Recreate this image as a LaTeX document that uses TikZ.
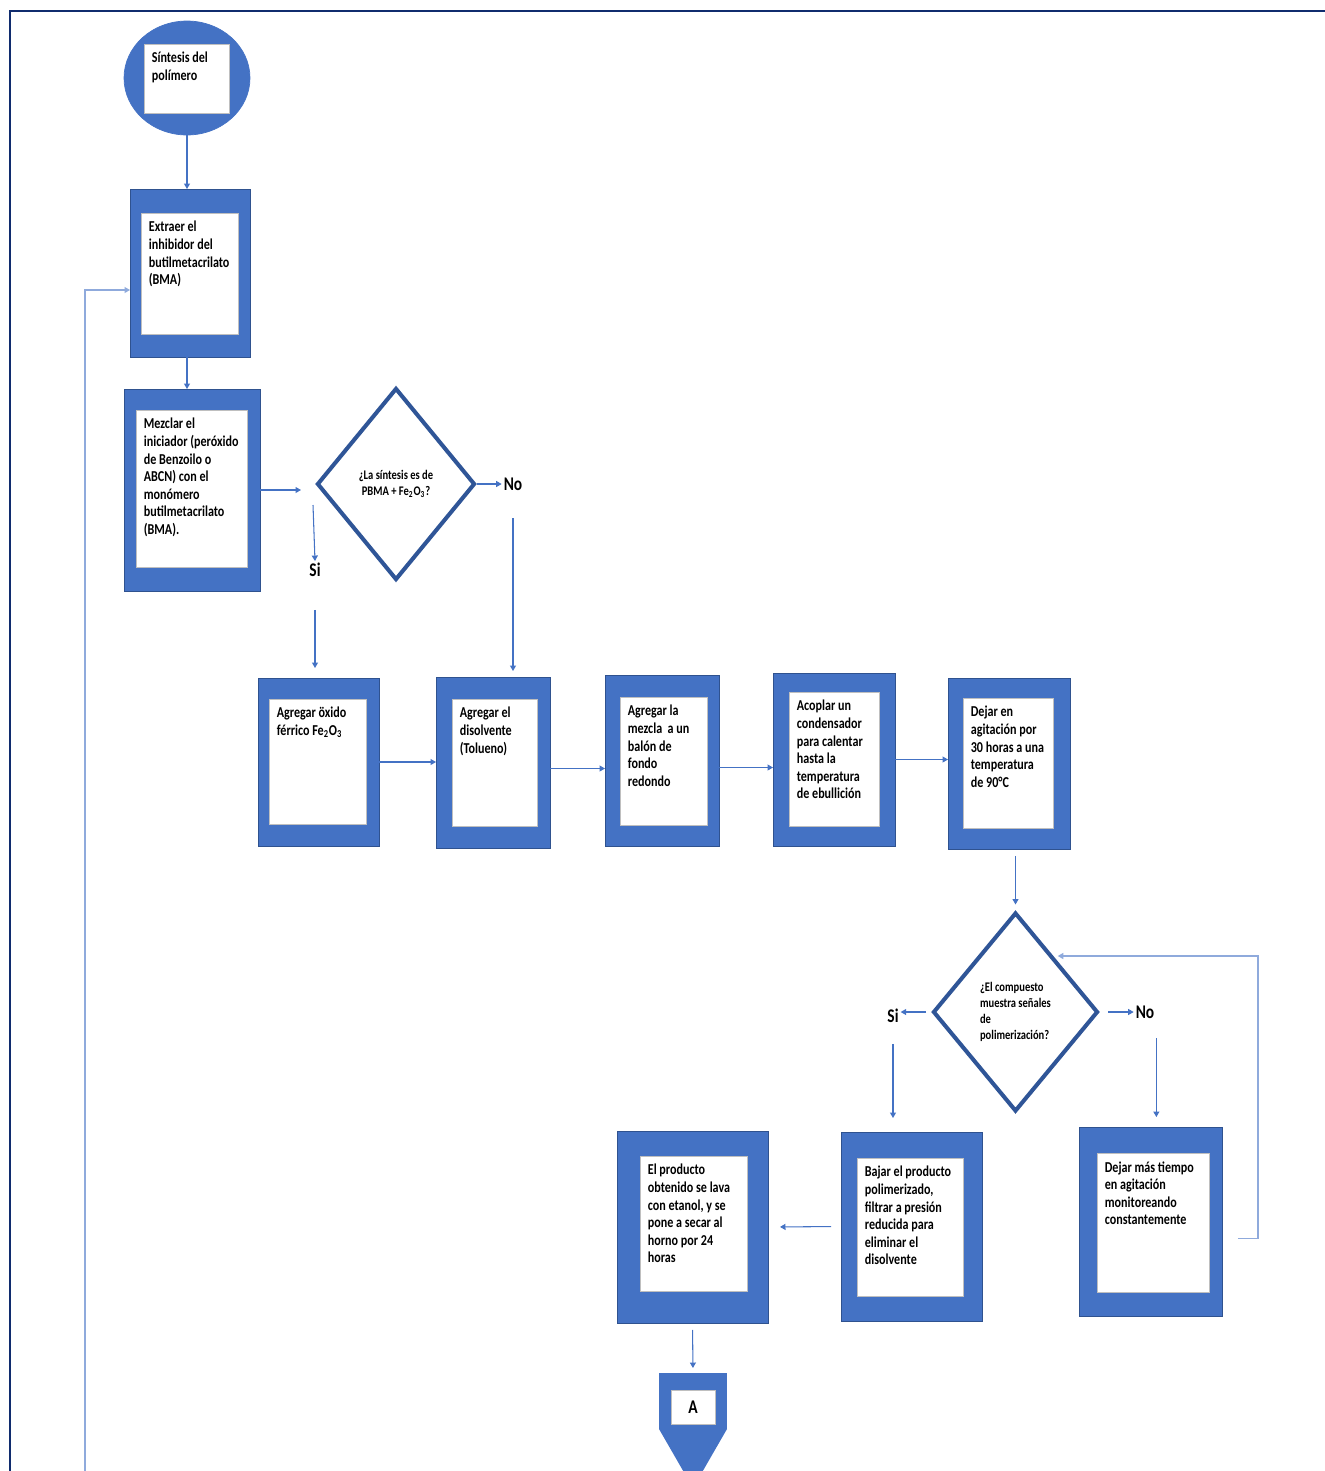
\documentclass[tikz,border=0pt]{standalone}
\usepackage{fontspec}
\newfontfamily\boxfont[FakeStretch=0.8]{Carlito}
\usetikzlibrary{arrows.meta,positioning,shapes.geometric,calc}
\definecolor{fcblue}{RGB}{68,114,196}
\definecolor{fcedge}{RGB}{47,82,143}
\definecolor{fcnavy}{RGB}{47,85,151}
\definecolor{fcframe}{RGB}{16,44,110}
\definecolor{fcline}{RGB}{68,114,196}
\definecolor{fclight}{RGB}{143,170,220}
\tikzset{
  stepouter/.style={draw=fcedge, line width=0.5pt, fill=fcblue, inner sep=0pt, outer sep=0pt},
  stepinner/.style={draw=black!25, line width=0.4pt, fill=white, inner sep=0pt, outer sep=0pt},
  steptext/.style={anchor=north west, align=left, inner sep=0pt, xshift=0.15cm, yshift=-0.16cm,
    font=\boxfont\bfseries\fontsize{8.6}{10}\selectfont},
  decision/.style={diamond, draw=fcnavy, line width=2.3pt, fill=white, inner sep=0pt,
    font=\boxfont\bfseries\fontsize{7.5}{9.2}\selectfont},
  answer/.style={font=\boxfont\bfseries\fontsize{11}{13}\selectfont, inner sep=1pt},
  flow/.style={draw=fcline, line width=0.6pt, -{Triangle[length=0.11cm,width=0.12cm]}},
}
\begin{document}
\begin{tikzpicture}[x=0.02cm, y=-0.02cm]
  \useasboundingbox (0,0) rectangle (1325,1471);
  % page frame
  \draw[fcframe, line width=1.7pt] (10,1475) -- (10,11) -- (1330,11);

  % start
  \node[ellipse, fill=fcblue, draw=fcblue, minimum width=2.52cm, minimum height=2.28cm, inner sep=0pt] (start) at (187,78) {};
  \node[stepinner, minimum width=1.70cm, minimum height=1.38cm] (startin) at (186.5,78.5) {};
  \node[steptext] (starttxt) at (startin.north west) {Síntesis del\\polímero};

  % first steps
  \node[stepouter, minimum width=2.40cm, minimum height=3.36cm] (b1) at (190,273) {};
  \node[stepinner, minimum width=1.94cm, minimum height=2.42cm] (b1in) at (189.5,273.5) {};
  \node[steptext] (b1txt) at (b1in.north west) {Extraer el\\inhibidor del\\butilmetacrilato\\(BMA)};

  \node[stepouter, minimum width=2.72cm, minimum height=4.04cm] (b2) at (192,490) {};
  \node[stepinner, minimum width=2.22cm, minimum height=3.14cm] (b2in) at (191.5,488.5) {};
  \node[steptext] (b2txt) at (b2in.north west) {Mezclar el\\iniciador (peróxido\\de Benzoilo o\\ABCN) con el\\monómero\\butilmetacrilato\\(BMA).};

  % first decision
  \node[decision, align=center, minimum width=3.16cm, minimum height=3.84cm] (d1) at (396,484) {¿La síntesis es de\\PBMA + Fe\textsubscript{2}O\textsubscript{3}?};
  \node[answer] (no1) at (513,484) {No};
  \node[answer] (si1) at (315,570) {Si};
  \coordinate (si1a) at (313,505);

  % row of steps
  \node[stepouter, minimum width=2.42cm, minimum height=3.36cm] (b3) at (318.5,762) {};
  \node[stepinner, minimum width=1.94cm, minimum height=2.50cm] (b3in) at (317.5,761.5) {};
  \node[steptext] (b3txt) at (b3in.north west) {Agregar öxido\\férrico Fe\textsubscript{2}O\textsubscript{3}};

  \node[stepouter, minimum width=2.28cm, minimum height=3.42cm] (b4) at (493,762.5) {};
  \node[stepinner, minimum width=1.70cm, minimum height=2.54cm] (b4in) at (494.5,762.5) {};
  \node[steptext] (b4txt) at (b4in.north west) {Agregar el\\disolvente\\(Tolueno)};

  \node[stepouter, minimum width=2.28cm, minimum height=3.42cm] (b5) at (662,760.5) {};
  \node[stepinner, minimum width=1.74cm, minimum height=2.56cm] (b5in) at (663.5,761) {};
  \node[steptext] (b5txt) at (b5in.north west) {Agregar la\\mezcla\ \ a un\\balón de\\fondo\\redondo};

  \node[stepouter, minimum width=2.44cm, minimum height=3.46cm] (b6) at (834,759.5) {};
  \node[stepinner, minimum width=1.80cm, minimum height=2.68cm] (b6in) at (834,759) {};
  \node[steptext] (b6txt) at (b6in.north west) {Acoplar un\\condensador\\para calentar\\hasta la\\temperatura\\de ebullición};

  \node[stepouter, minimum width=2.44cm, minimum height=3.42cm] (b7) at (1009,763.5) {};
  \node[stepinner, minimum width=1.80cm, minimum height=2.60cm] (b7in) at (1008,763) {};
  \node[steptext] (b7txt) at (b7in.north west) {Dejar en\\agitación por\\30 horas a una\\temperatura\\de 90°C};

  % second decision
  \node[decision, align=left, minimum width=3.30cm, minimum height=3.98cm] (d2) at (1015.5,1012) {¿El compuesto\\muestra señales\\de\\polimerización?};
  \node[answer] (si2) at (893,1016) {Si};
  \node[answer] (no2) at (1145,1012) {No};
  \coordinate (loopr) at (1258,956);

  % last steps
  \node[stepouter, minimum width=2.86cm, minimum height=3.78cm] (b8) at (1150.5,1221.5) {};
  \node[stepinner, minimum width=2.24cm, minimum height=2.78cm] (b8in) at (1153,1222.5) {};
  \node[steptext] (b8txt) at (b8in.north west) {Dejar más tiempo\\en agitación\\monitoreando\\constantemente};

  \node[stepouter, minimum width=2.82cm, minimum height=3.78cm] (b9) at (911.5,1226.5) {};
  \node[stepinner, minimum width=2.12cm, minimum height=2.76cm] (b9in) at (910,1227) {};
  \node[steptext] (b9txt) at (b9in.north west) {Bajar el producto\\polimerizado,\\filtrar a presión\\reducida para\\eliminar el\\disolvente};

  \node[stepouter, minimum width=3.02cm, minimum height=3.84cm] (b10) at (692.5,1227) {};
  \node[stepinner, minimum width=2.14cm, minimum height=2.70cm] (b10in) at (693.5,1223.5) {};
  \node[steptext] (b10txt) at (b10in.north west) {El producto\\obtenido se lava\\con etanol, y se\\pone a secar al\\horno por 24\\horas};

  % off-page connector
  \node[stepouter, draw=none, minimum width=1.36cm, minimum height=1.12cm] (off) at (693,1401) {};
  \fill[fcblue] (off.south west) -- (off.south east) -- ($(off.south)+(0,59)$) -- cycle;
  \node[stepinner, answer, minimum width=0.88cm, minimum height=0.68cm] (offin) at (693,1407) {A};
  \coordinate (loopl) at (85,1475);

  % connectors
  \draw[flow] (start.south) -- (start.south |- b1.north);
  \draw[flow] (b1.south -| start.south) -- (start.south |- b2.north);
  \draw[flow, shorten >=0.28cm] (b2.east) -- (b2.east -| d1.west);
  \draw[flow] (d1.east) -- (no1.west);
  \draw[flow] (si1a) -- (si1.north);
  \draw[flow, shorten <=0.62cm, shorten >=0.2cm] (si1.south) -- (si1.south |- b3.north);
  \draw[flow, shorten <=0.52cm, shorten >=0.12cm] (no1.south) -- (no1.south |- b4.north);
  \draw[flow] (b3.east) -- (b3.east -| b4.west);
  \draw[flow] ([yshift=-0.12cm]b4.east) -- ([yshift=-0.12cm]b4.east -| b5.west);
  \draw[flow] ([yshift=-0.14cm]b5.east) -- ([yshift=-0.14cm]b5.east -| b6.west);
  \draw[flow] (b6.east) -- (b6.east -| b7.west);
  \draw[flow, shorten <=0.14cm, shorten >=0.12cm] (d2.north |- b7.south) -- (d2.north);
  \draw[flow, shorten <=0.1cm] (d2.west) -- (d2.west -| si2.east);
  \draw[flow, shorten <=0.16cm] (d2.east) -- (d2.east -| no2.west);
  \draw[flow, shorten <=0.38cm, shorten >=0.28cm] (si2.south) -- (si2.south |- b9.north);
  \draw[flow, shorten <=0.36cm, shorten >=0.2cm] (no2.south east) -- (no2.south east |- b8.north);
  \draw[flow, draw=fclight, shorten <=0.32cm] ([yshift=-0.34cm]b8.east) -| (loopr) -- (loopr -| d2.north east);
  \draw[flow, shorten <=0.2cm, shorten >=0.24cm] (b9.west) -- (b10.east);
  \draw[flow, shorten <=0.14cm, shorten >=0.1cm] (b10.south) -- (off.north);
  \draw[flow, draw=fclight] (loopl) |- ([yshift=-0.34cm]b1.west);
\end{tikzpicture}
\end{document}
